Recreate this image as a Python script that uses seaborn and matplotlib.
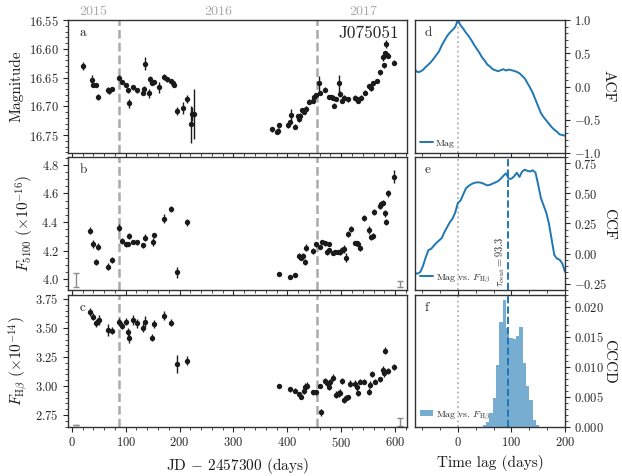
import numpy as np
import pandas as pd
import matplotlib
matplotlib.use('Agg')
import matplotlib.pyplot as plt
import matplotlib.transforms as mtrans
from matplotlib.ticker import AutoMinorLocator, MultipleLocator, ScalarFormatter, FuncFormatter
import seaborn as sns

# ---------------- data ----------------
# Panel a: magnitude light curve (JD - 2457300, mag, err)
mag_t = [21.6, 38, 39, 45, 49.5, 67, 69, 75, 88.4, 93, 100, 104, 106, 114, 121, 132, 134, 135,
         143, 145, 149, 153, 162, 171, 177.5, 184, 187, 190, 195, 206.5, 213, 221, 222.6, 227,
         371.7, 380, 382, 385, 401, 404, 407.5, 414, 419, 421, 424, 427, 430, 435, 441, 447, 450,
         453, 458, 460, 470, 477, 480.5, 484, 487, 490, 495, 498, 501, 505, 513, 526, 530, 532,
         537, 544, 551, 555, 558, 567, 571, 577, 579, 581, 583, 585, 587, 597]
mag_v = [16.630, 16.655, 16.663, 16.663, 16.684, 16.671, 16.674, 16.670, 16.650, 16.658, 16.663,
         16.672, 16.695, 16.667, 16.672, 16.677, 16.669, 16.626, 16.677, 16.653, 16.659, 16.658,
         16.667, 16.649, 16.653, 16.656, 16.659, 16.663, 16.708, 16.703, 16.688, 16.731, 16.713,
         16.713,
         16.740, 16.744, 16.742, 16.733, 16.733, 16.727, 16.715, 16.735, 16.717, 16.722, 16.716,
         16.706, 16.710, 16.704, 16.692, 16.690, 16.684, 16.681, 16.660, 16.677, 16.671, 16.684,
         16.684, 16.685, 16.699, 16.687, 16.660, 16.678, 16.690, 16.685, 16.688, 16.685, 16.688,
         16.691, 16.685, 16.676, 16.665, 16.668, 16.660, 16.656, 16.641, 16.615, 16.629, 16.608,
         16.592, 16.610, 16.612, 16.624]
mag_e = [0.007, 0.009, 0.004, 0.004, 0.005, 0.004, 0.004, 0.004, 0.004, 0.004, 0.004,
         0.004, 0.008, 0.004, 0.004, 0.004, 0.005, 0.011, 0.008, 0.006, 0.004, 0.004,
         0.010, 0.006, 0.004, 0.004, 0.004, 0.004, 0.007, 0.010, 0.007, 0.032, 0.012,
         0.044,
         0.004, 0.004, 0.004, 0.004, 0.005, 0.004, 0.010, 0.004, 0.004, 0.005, 0.004,
         0.004, 0.004, 0.004, 0.004, 0.004, 0.004, 0.004, 0.013, 0.004, 0.004, 0.004,
         0.004, 0.004, 0.004, 0.004, 0.015, 0.005, 0.004, 0.004, 0.004, 0.004, 0.004,
         0.004, 0.004, 0.004, 0.004, 0.006, 0.004, 0.004, 0.004, 0.006, 0.005, 0.005,
         0.007, 0.004, 0.004, 0.005]

# Panel b: F5100 (1e-16)
f5_t = [34.6, 39.6, 45, 49.5, 67.4, 75.4, 88.4, 93, 100, 104, 107, 114, 121, 132, 135, 150, 153,
        171, 184, 195, 213,
        385, 405, 414, 422, 426, 428.5, 433, 435, 448, 453, 460, 464, 470, 477, 473, 478, 484,
        489, 494, 498, 502, 505, 508, 513, 518, 525, 529, 531, 535, 543, 552, 555, 558, 561,
        571, 574, 577.6, 581, 583, 586, 597]
f5_v = [4.339, 4.246, 4.117, 4.227, 4.087, 4.131, 4.360, 4.267, 4.243, 4.248, 4.304, 4.262, 4.257,
        4.236, 4.290, 4.260, 4.306, 4.423, 4.491, 4.047, 4.398,
        4.037, 4.014, 4.030, 4.161, 4.150, 4.161, 4.119, 4.220, 4.196, 4.243, 4.227, 4.262,
        4.250, 4.246, 4.187, 4.204, 4.182, 4.189, 4.192, 4.192, 4.204, 4.211, 4.150, 4.316,
        4.351, 4.253, 4.250, 4.248, 4.215, 4.426, 4.344, 4.292, 4.302, 4.470, 4.512, 4.526,
        4.536, 4.461, 4.400, 4.601, 4.718]
f5_e = [0.025, 0.025, 0.02, 0.025, 0.025, 0.02, 0.025, 0.02, 0.015, 0.015, 0.02, 0.015, 0.015,
        0.02, 0.025, 0.025, 0.02, 0.03, 0.02, 0.04, 0.025,
        0.015, 0.015, 0.015, 0.02, 0.02, 0.02, 0.02, 0.025, 0.02, 0.02, 0.015, 0.015,
        0.015, 0.015, 0.02, 0.015, 0.015, 0.015, 0.015, 0.02, 0.02, 0.03, 0.03, 0.02,
        0.02, 0.015, 0.015, 0.015, 0.015, 0.02, 0.025, 0.02, 0.02, 0.02, 0.02, 0.02,
        0.02, 0.025, 0.02, 0.025, 0.045]

# Panel c: F_Hbeta (1e-14)
hb_t = [34.6, 39, 45, 48, 50, 67.4, 75.4, 88, 93, 100, 104, 107, 114, 121, 132, 135, 149, 153,
        171, 184, 195, 213,
        385, 405, 414, 422, 426, 430, 433, 436, 448, 453, 460, 463, 470, 474, 477, 480, 484,
        490, 495, 498, 502, 505, 508, 513, 517, 525, 529, 531, 535, 543, 551, 554, 557, 562,
        571, 577, 580, 581.6, 586, 597]
hb_v = [3.641, 3.598, 3.540, 3.560, 3.569, 3.483, 3.477, 3.555, 3.517, 3.555, 3.468, 3.411,
        3.569, 3.540, 3.503, 3.555, 3.417, 3.534, 3.606, 3.546, 3.190, 3.218,
        3.000, 2.971, 2.960, 2.931, 2.908, 2.954, 2.994, 3.000, 2.945, 2.945, 3.000, 2.773,
        3.046, 3.023, 2.989, 3.032, 3.069, 2.925, 2.937, 2.942, 3.046, 2.879, 2.894, 2.902,
        3.020, 3.020, 2.989, 2.937, 3.037, 3.037, 2.951, 3.009, 3.103, 3.037, 3.057, 3.138,
        3.109, 3.305, 3.129, 3.161]
hb_e = [0.035, 0.03, 0.03, 0.03, 0.04, 0.05, 0.03, 0.035, 0.03, 0.03, 0.035, 0.04,
        0.04, 0.04, 0.04, 0.05, 0.03, 0.035, 0.04, 0.03, 0.08, 0.04,
        0.02, 0.02, 0.02, 0.02, 0.02, 0.02, 0.03, 0.03, 0.02, 0.02, 0.02, 0.03,
        0.025, 0.02, 0.02, 0.03, 0.03, 0.03, 0.03, 0.03, 0.025, 0.025, 0.025, 0.02,
        0.03, 0.03, 0.03, 0.02, 0.02, 0.02, 0.03, 0.03, 0.03, 0.02, 0.02, 0.03,
        0.03, 0.03, 0.025, 0.025]

# systematic error bars (gray)
sys_b_t = [8, 609]
sys_b_v = [3.993, 3.966]
sys_b_e = [0.047, 0.02]
sys_c_t = [8, 609]
sys_c_v = [2.664, 2.691]
sys_c_e = [0.003, 0.036]

year_pos = [39, 271, 540]
year_lab = ['2015', '2016', '2017']
year_bounds = [88.5, 454.5]

# Panel d: ACF
lag = list(range(-80, 201, 5))
acf = [0.25, 0.215, 0.225, 0.25, 0.295, 0.33, 0.37, 0.42, 0.475, 0.53, 0.62, 0.69, 0.76, 0.81,
       0.85, 0.895, 1.0, 0.92, 0.87, 0.81, 0.76, 0.70, 0.63, 0.57, 0.51, 0.44, 0.39, 0.33, 0.30,
       0.26, 0.245, 0.23, 0.245, 0.26, 0.24, 0.255, 0.245, 0.235, 0.22, 0.20, 0.16, 0.12, 0.05,
       -0.02, -0.10, -0.20, -0.30, -0.40, -0.46, -0.51, -0.56, -0.61, -0.65, -0.68, -0.72,
       -0.73, -0.74]
# Panel e: CCF
ccf = [-0.16, -0.165, -0.15, -0.10, -0.03, 0.03, 0.04, 0.065, 0.09, 0.11, 0.13, 0.18, 0.22, 0.26,
       0.29, 0.34, 0.42, 0.44, 0.49, 0.54, 0.56, 0.575, 0.585, 0.59, 0.59, 0.585, 0.575, 0.565,
       0.57, 0.58, 0.59, 0.60, 0.62, 0.645, 0.665, 0.62, 0.62, 0.64, 0.67, 0.635, 0.68, 0.695,
       0.685, 0.68, 0.69, 0.67, 0.57, 0.46, 0.40, 0.34, 0.25, 0.12, -0.01, -0.04, -0.05, -0.08,
       -0.15]
tau_cent = 93.3

# Panel f: CCCD histogram
cccd_edges = [46.5, 52.7, 58.9, 65.1, 71.3, 77.5, 83.7, 89.9, 96.1, 102.3, 108.5, 114.7,
              120.9, 127.1, 133.3, 139.5, 145.7, 151.9]
cccd_h = [0.0003, 0.0008, 0.0023, 0.0048, 0.0103, 0.0175, 0.0211, 0.0165, 0.0149, 0.0146,
          0.0152, 0.0166, 0.0107, 0.0068, 0.0045, 0.0011, 0.0003]

# ---------------- style ----------------
sns.set_theme(style='ticks')
plt.rcParams.update({
    'font.family': ['cmr10', 'DejaVu Serif'],
    'mathtext.fontset': 'cm',
    'axes.formatter.use_mathtext': True,
    'axes.unicode_minus': True,
    'xtick.labelsize': 9, 'ytick.labelsize': 9,
    'axes.labelsize': 11,
    'axes.edgecolor': '0.2', 'axes.linewidth': 1.0,
    'xtick.major.size': 3.5, 'ytick.major.size': 3.5,
    'xtick.minor.size': 2, 'ytick.minor.size': 2,
    'xtick.major.width': 0.8, 'ytick.major.width': 0.8,
    'xtick.minor.width': 0.6, 'ytick.minor.width': 0.6,
    'xtick.major.pad': 3, 'ytick.major.pad': 3,
    'text.color': '0.15', 'axes.labelcolor': '0.1',
})

BLUE = '#1f77b4'
W, H = 622, 476
fig = plt.figure(figsize=(W / 100, H / 100), dpi=100)

def rect(x0, y0, x1, y1):
    return [x0 / W, 1 - y1 / H, (x1 - x0) / W, (y1 - y0) / H]

rows = [(20, 153), (157, 290), (295, 427)]
axL = [fig.add_axes(rect(68, r0, 407, r1)) for r0, r1 in rows]
axR = [fig.add_axes(rect(415, r0, 565, r1)) for r0, r1 in rows]

gray = '#aaaaaa'
eb_kw = dict(fmt='none', ecolor='k', elinewidth=1.0, capsize=0)

series = [(mag_t, mag_v, mag_e), (f5_t, f5_v, f5_e), (hb_t, hb_v, hb_e)]
for ax, (t, v, e) in zip(axL, series):
    df = pd.DataFrame({'t': t, 'v': v, 'e': e})
    ax.errorbar(df['t'], df['v'], yerr=df['e'], **eb_kw)
    sns.scatterplot(data=df, x='t', y='v', ax=ax, color='k', s=15, linewidth=0, zorder=3)
    for xb in year_bounds:
        ax.axvline(xb, color=gray, ls='--', lw=1.8, dashes=(3.5, 1.6), zorder=1)
    ax.set_xlim(-7, 622)
    ax.xaxis.set_major_locator(MultipleLocator(100))
    ax.xaxis.set_minor_locator(AutoMinorLocator(5))
    ax.yaxis.set_minor_locator(AutoMinorLocator(5))
    ax.yaxis.set_major_formatter(ScalarFormatter(useOffset=False, useMathText=True))
    ax.set_xlabel('')

axL[1].errorbar(sys_b_t, sys_b_v, yerr=sys_b_e, fmt='none', ecolor='0.55', elinewidth=1.0, capsize=2)
axL[2].errorbar(sys_c_t, sys_c_v, yerr=sys_c_e, fmt='none', ecolor='0.55', elinewidth=1.0, capsize=2)

axL[0].set_ylim(16.781, 16.55)
axL[0].yaxis.set_major_locator(MultipleLocator(0.05))
axL[1].set_ylim(3.923, 4.856)
axL[1].yaxis.set_major_locator(MultipleLocator(0.2))
axL[1].yaxis.set_minor_locator(AutoMinorLocator(4))
axL[2].set_ylim(2.646, 3.784)
axL[2].yaxis.set_major_locator(MultipleLocator(0.25))

axL[0].set_ylabel('Magnitude')
axL[1].set_ylabel(r'$F_{5100}\ (\times 10^{-16})$')
axL[2].set_ylabel(r'$F_{\rm H\beta}\ (\times 10^{-14})$')
axL[2].set_xlabel(r'JD $-$ 2457300 (days)')
for ax in axL[:2]:
    ax.tick_params(labelbottom=False)

trans = mtrans.blended_transform_factory(axL[0].transData, axL[0].transAxes)
for xp, lab in zip(year_pos, year_lab):
    axL[0].text(xp, 1.015, lab, transform=trans, ha='center', va='bottom',
                color='#aaaaaa', fontsize=10)

for ax, letter in zip(axL, 'abc'):
    ax.text(0.035, 0.9, letter, transform=ax.transAxes, ha='left', va='center', fontsize=9.5)
axL[0].text(0.975, 0.9, 'J075051', transform=axL[0].transAxes, ha='right', va='center', fontsize=12.5)

# right panels
sns.lineplot(x=lag, y=acf, ax=axR[0], color=BLUE, lw=1.4, label='Mag')
sns.lineplot(x=lag, y=ccf, ax=axR[1], color=BLUE, lw=1.4, label=r'Mag vs. $F_{\rm H\beta}$')
centers = [(a + b) / 2 for a, b in zip(cccd_edges[:-1], cccd_edges[1:])]
sns.histplot(x=centers, weights=cccd_h, bins=cccd_edges, ax=axR[2], color=BLUE, alpha=0.6,
             linewidth=0, edgecolor='none', label=r'Mag vs. $F_{\rm H\beta}$')

def tight_fmt(dec):
    def f(v, pos):
        if abs(v) < 1e-12:
            v = 0.0
        return r'$\mathdefault{' + f'{v:.{dec}f}' + '}$'
    return FuncFormatter(f)

for ax in axR:
    ax.axvline(0, color='0.7', ls=':', lw=1.3, zorder=0)
    ax.set_xlim(-80, 200)
    ax.xaxis.set_major_locator(MultipleLocator(100))
    ax.xaxis.set_minor_locator(AutoMinorLocator(3))
    ax.yaxis.set_minor_locator(AutoMinorLocator(5))
    ax.yaxis.tick_right()
    ax.yaxis.set_label_position('right')
    ax.legend(loc='lower left', frameon=False, fontsize=7, handlelength=1.3,
              borderaxespad=0.15, handletextpad=0.3)
for ax in axR[1:]:
    ax.axvline(tau_cent, color=BLUE, ls='--', lw=1.4, zorder=2)

axR[0].set_ylim(-1.0, 1.0)
axR[0].yaxis.set_major_locator(MultipleLocator(0.5))
axR[0].yaxis.set_major_formatter(tight_fmt(1))
axR[1].set_ylim(-0.30, 0.80)
axR[1].yaxis.set_major_locator(MultipleLocator(0.25))
axR[1].yaxis.set_major_formatter(tight_fmt(2))
axR[2].set_ylim(0, 0.022)
axR[2].yaxis.set_major_locator(MultipleLocator(0.005))
axR[2].yaxis.set_major_formatter(tight_fmt(3))

for ax, lab in zip(axR, ['ACF', 'CCF', 'CCCD']):
    ax.set_ylabel(lab, rotation=270, va='center', ha='center')
    ax.yaxis.set_label_coords(1.29, 0.5)
axR[2].set_xlabel('Time lag (days)')
for ax in axR[:2]:
    ax.tick_params(labelbottom=False)
    ax.set_xlabel('')

axR[1].text(tau_cent - 1.5, 0.02, r'$\tau_{\rm cent}=93.3$', transform=mtrans.blended_transform_factory(
    axR[1].transData, axR[1].transAxes), rotation=90, ha='right', va='bottom', fontsize=7.5)

for ax, letter in zip(axR, 'def'):
    ax.text(0.065, 0.9, letter, transform=ax.transAxes, ha='left', va='center', fontsize=9.5)

fig.savefig('out.png', dpi=100)
